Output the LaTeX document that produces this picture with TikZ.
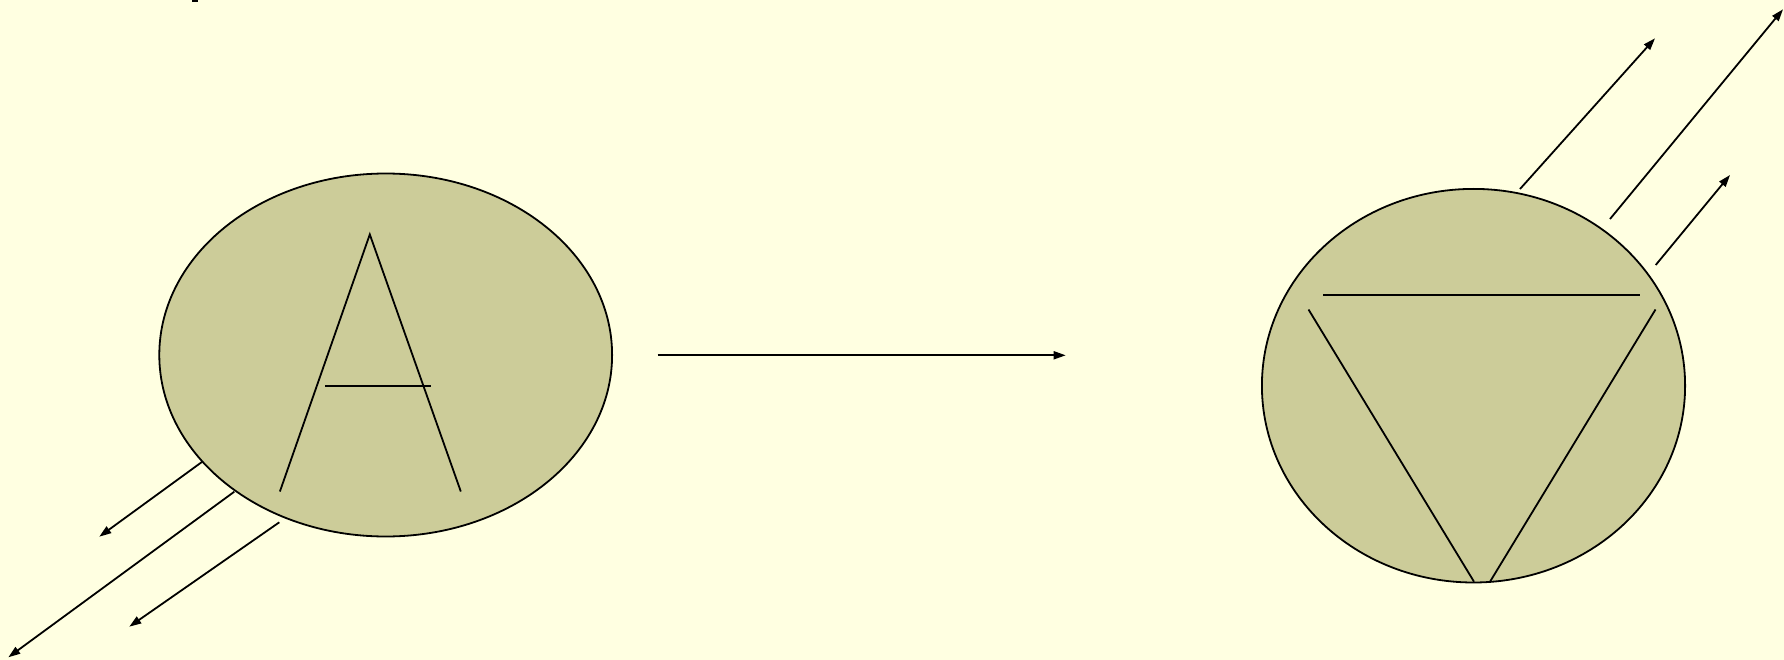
\documentclass[tikz,border=0pt]{standalone}
\usetikzlibrary{shapes.geometric,arrows.meta}
\definecolor{bgc}{HTML}{FFFFE1}
\definecolor{olive}{HTML}{CCCC99}
\tikzset{
  blob/.style={ellipse,draw=black,line width=1.8pt,fill=olive,inner sep=0pt},
  glyph/.style={line width=1.8pt},
  ray/.style={line width=1.8pt,-{Triangle[length=12pt,width=8pt]}}
}
\begin{document}
\begin{tikzpicture}[x=1pt,y=-1pt]
\fill[bgc] (0,0) rectangle (1784,660);
\useasboundingbox (0,0) rectangle (1784,660);
\fill[black] (192,0) rectangle (198,2.3);
% left ellipse
\node[blob,minimum width=452.8pt,minimum height=363pt] (L) at (385.7,355) {};
% right ellipse
\node[blob,minimum width=423.2pt,minimum height=393.6pt] (R) at (1473.5,385.7) {};
% letter A
\coordinate (Aa) at (369.8,234.4);
\coordinate (Al) at (279.9,491.5);
\coordinate (Ar) at (460.8,491.5);
\coordinate (Ac1) at (325.4,385.7);
\coordinate (Ac2) at (431.2,385.7);
\draw[glyph] (Al) -- (Aa) -- (Ar);
\draw[glyph] (Ac1) -- (Ac2);
% inverted triangle
\coordinate (T1) at (1323.3,294.7);
\coordinate (T2) at (1639.6,294.7);
\coordinate (T3) at (1308.5,309.5);
\coordinate (T4) at (1474,581.7);
\coordinate (T5) at (1655.5,309.5);
\coordinate (T6) at (1490,581.7);
\draw[glyph] (T1) -- (T2);
\draw[glyph] (T3) -- (T4);
\draw[glyph] (T5) -- (T6);
% left arrows
\coordinate (la1s) at (202.3,461.7); \coordinate (la1e) at (99.3,536.7);
\coordinate (la2s) at (234.3,491.7); \coordinate (la2e) at (8.3,657.3);
\coordinate (la3s) at (279.3,522.3); \coordinate (la3e) at (129.3,626.7);
\draw[ray] (la1s) -- (la1e);
\draw[ray] (la2s) -- (la2e);
\draw[ray] (la3s) -- (la3e);
% middle arrow
\coordinate (ms) at (657.7,355.3); \coordinate (me) at (1065.7,355.3);
\draw[ray] (ms) -- (me);
% right arrows
\coordinate (ra1s) at (1520,189); \coordinate (ra1e) at (1655,38.3);
\coordinate (ra2s) at (1610,219); \coordinate (ra2e) at (1783,9.3);
\coordinate (ra3s) at (1655.7,265); \coordinate (ra3e) at (1730,175);
\draw[ray] (ra1s) -- (ra1e);
\draw[ray] (ra2s) -- (ra2e);
\draw[ray] (ra3s) -- (ra3e);
\end{tikzpicture}
\end{document}
